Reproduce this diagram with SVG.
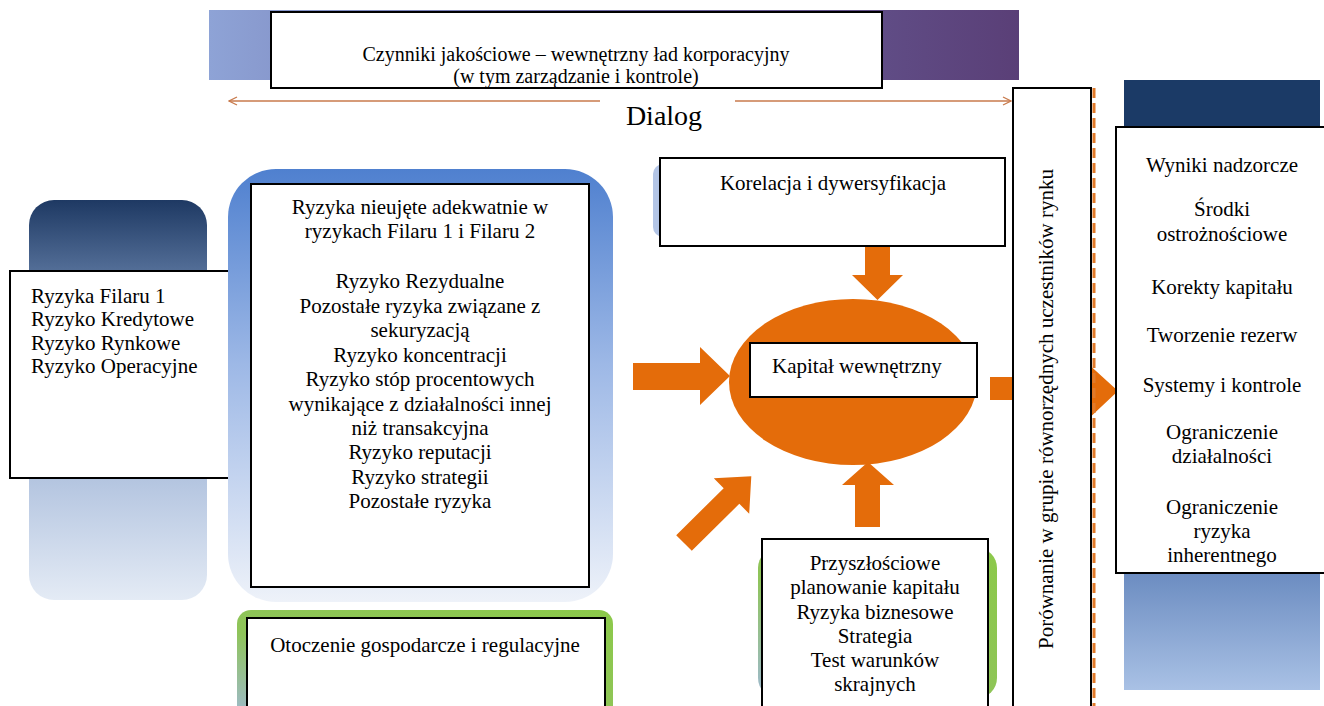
<svg xmlns="http://www.w3.org/2000/svg" width="1324" height="706" viewBox="0 0 1324 706">
<defs>
<linearGradient id="gBand" x1="0" y1="0" x2="1" y2="0">
<stop offset="0" stop-color="#8ea3d6"/><stop offset="0.45" stop-color="#6d6aa6"/><stop offset="1" stop-color="#5a3f77"/>
</linearGradient>
<linearGradient id="gNavy" x1="0" y1="0" x2="0" y2="1">
<stop offset="0" stop-color="#1e3963"/><stop offset="0.2" stop-color="#5a759e"/><stop offset="0.7" stop-color="#b4c5e0"/><stop offset="1" stop-color="#e4ebf5"/>
</linearGradient>
<linearGradient id="gBlue" x1="0" y1="0" x2="0" y2="1">
<stop offset="0" stop-color="#4f80cf"/><stop offset="0.45" stop-color="#9db8e6"/><stop offset="1" stop-color="#eef2f9"/>
</linearGradient>
<linearGradient id="gGreen" x1="1" y1="0" x2="0" y2="1">
<stop offset="0" stop-color="#8cc94a"/><stop offset="0.6" stop-color="#8fc45a"/><stop offset="1" stop-color="#9fb9d3"/>
</linearGradient>
<linearGradient id="gLight" x1="0" y1="0" x2="0" y2="1">
<stop offset="0" stop-color="#6a8bc0"/><stop offset="1" stop-color="#a9c1e5"/>
</linearGradient>
<marker id="chev" viewBox="0 0 10 10" refX="9" refY="5" markerWidth="10" markerHeight="10" orient="auto-start-reverse" markerUnits="userSpaceOnUse">
<path d="M1,1 L9,5 L1,9" fill="none" stroke="#c87a4c" stroke-width="1.3"/>
</marker>
<style>
.box{fill:#fff;stroke:#000;stroke-width:2}
.t{font-family:"Liberation Serif","Times New Roman",serif;font-size:21px;fill:#000}
.c{text-anchor:middle}
.or{fill:#e46c0a}
.dl{stroke:#c87a4c;stroke-width:1.5;fill:none}
</style>
</defs>

<g id="top-governance">
<rect x="209" y="10" width="810" height="70" fill="url(#gBand)"/>
<rect class="box" x="271" y="12" width="611" height="76"/>
<text class="t c" x="576" y="61" style="font-size:20px">Czynniki jakościowe – wewnętrzny ład korporacyjny</text>
<text class="t c" x="576" y="83" style="font-size:20px">(w tym zarządzanie i kontrole)</text>
</g>

<g id="pillar1">
<rect x="29" y="200" width="178" height="400" rx="25" fill="url(#gNavy)"/>
<rect class="box" x="10" y="271" width="227" height="207"/>
<text class="t" x="31" y="303">Ryzyka Filaru 1</text>
<text class="t" x="31" y="326">Ryzyko Kredytowe</text>
<text class="t" x="31" y="350">Ryzyko Rynkowe</text>
<text class="t" x="31" y="373">Ryzyko Operacyjne</text>
</g>

<g id="other-risks">
<rect x="228" y="169" width="385" height="433" rx="48" fill="url(#gBlue)"/>
<rect class="box" x="251" y="184" width="338" height="403"/>
<text class="t c" x="420" y="214">Ryzyka nieujęte adekwatnie w</text>
<text class="t c" x="420" y="238">ryzykach Filaru 1 i Filaru 2</text>
<text class="t c" x="420" y="288">Ryzyko Rezydualne</text>
<text class="t c" x="420" y="313">Pozostałe ryzyka związane z</text>
<text class="t c" x="420" y="337">sekuryzacją</text>
<text class="t c" x="420" y="362">Ryzyko koncentracji</text>
<text class="t c" x="420" y="386">Ryzyko stóp procentowych</text>
<text class="t c" x="420" y="411">wynikające z działalności innej</text>
<text class="t c" x="420" y="435">niż transakcyjna</text>
<text class="t c" x="420" y="459">Ryzyko reputacji</text>
<text class="t c" x="420" y="484">Ryzyko strategii</text>
<text class="t c" x="420" y="508">Pozostałe ryzyka</text>
</g>

<g id="environment">
<rect x="237" y="610" width="376" height="110" rx="14" fill="url(#gGreen)"/>
<rect class="box" x="247" y="618" width="358" height="100"/>
<text class="t c" x="425" y="652">Otoczenie gospodarcze i regulacyjne</text>
</g>

<g id="correlation">
<rect x="653" y="164" width="345" height="73" rx="10" fill="#b3c5e6"/>
<rect class="box" x="660" y="158" width="345" height="88"/>
<text class="t c" x="833" y="190">Korelacja i dywersyfikacja</text>
</g>

<g id="connectors">
<line class="dl" x1="229" y1="101" x2="600" y2="101" marker-start="url(#chev)"/>
<line class="dl" x1="735" y1="101" x2="1011" y2="101" marker-end="url(#chev)"/>
<polygon class="or" points="865,247 890,247 890,275 903,275 877.5,300 852,275 865,275"/>
<polygon class="or" points="633,363 700,363 700,347 730,376 700,405 700,390 633,390"/>
<polygon class="or" points="676.2,535.2 723.7,488.2 713.8,478.3 751.3,476.2 749.2,513.7 739.3,503.8 691.8,550.8"/>
<polygon class="or" points="855,527 855,485 842,485 868,462 894,485 880,485 880,527"/>
<polygon class="or" points="990,377 1085,377 1085,361 1118,391 1085,422 1085,400 990,400"/>
</g>
<text class="t c" x="664" y="125" style="font-size:28px">Dialog</text>

<g id="internal-capital">
<ellipse class="or" cx="853" cy="382" rx="124" ry="83"/>
<rect class="box" x="750" y="343" width="227" height="54"/>
<text class="t" x="772" y="373">Kapitał wewnętrzny</text>
</g>

<g id="planning">
<rect x="758" y="548" width="239" height="150" rx="20" fill="url(#gGreen)"/>
<rect class="box" x="762" y="539" width="226" height="180"/>
<text class="t c" x="875" y="570">Przyszłościowe</text>
<text class="t c" x="875" y="594">planowanie kapitału</text>
<text class="t c" x="875" y="619">Ryzyka biznesowe</text>
<text class="t c" x="875" y="643">Strategia</text>
<text class="t c" x="875" y="667">Test warunków</text>
<text class="t c" x="875" y="691">skrajnych</text>
</g>

<g id="peer-comparison">
<rect class="box" x="1013" y="88" width="78" height="630"/>
<line x1="1094" y1="88" x2="1094" y2="706" stroke="#e07a2a" stroke-width="3" stroke-dasharray="10 5"/>
<text class="t c" transform="translate(1053,409) rotate(-90)" x="0" y="0">Porównanie w grupie równorzędnych uczestników rynku</text>
</g>

<g id="supervisory-outcomes">
<rect x="1124" y="80" width="196" height="50" fill="#1b3a66"/>
<rect x="1124" y="570" width="196" height="120" fill="url(#gLight)"/>
<rect class="box" x="1116" y="127" width="220" height="446"/>
<text class="t c" x="1222" y="172">Wyniki nadzorcze</text>
<text class="t c" x="1222" y="216">Środki</text>
<text class="t c" x="1222" y="241">ostrożnościowe</text>
<text class="t c" x="1222" y="294">Korekty kapitału</text>
<text class="t c" x="1222" y="342">Tworzenie rezerw</text>
<text class="t c" x="1222" y="392">Systemy i kontrole</text>
<text class="t c" x="1222" y="439">Ograniczenie</text>
<text class="t c" x="1222" y="463">działalności</text>
<text class="t c" x="1222" y="514">Ograniczenie</text>
<text class="t c" x="1222" y="538">ryzyka</text>
<text class="t c" x="1222" y="562">inherentnego</text>
</g>
</svg>
